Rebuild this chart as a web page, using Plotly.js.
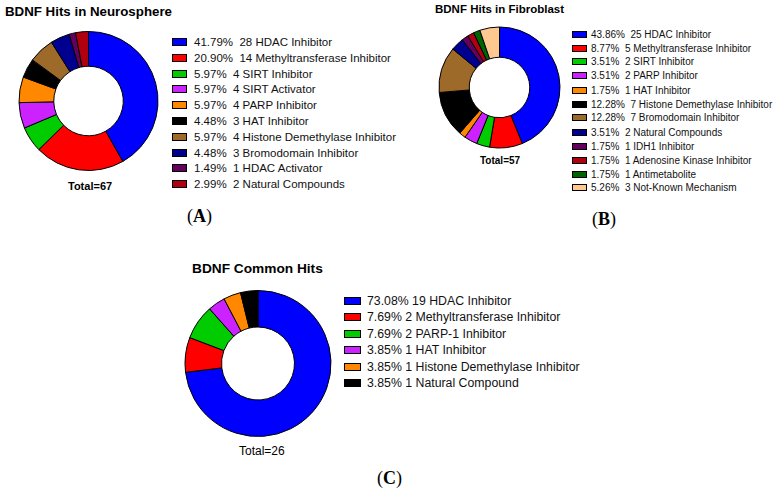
<!DOCTYPE html>
<html>
<head>
<meta charset="utf-8">
<script src="https://cdn.plot.ly/plotly-3.0.1.min.js"></script>
<style>
  html, body { margin: 0; padding: 0; background: #fff; }
  #chart { width: 776px; height: 493px; }
</style>
</head>
<body>
<div id="chart"></div>
<script>
const neuroLabels = ['HDAC Inhibitor', 'Methyltransferase Inhibitor', 'SIRT Inhibitor', 'SIRT Activator',
  'PARP Inhibitor', 'HAT Inhibitor', 'Histone Demethylase Inhibitor', 'Bromodomain Inhibitor',
  'HDAC Activator', 'Natural Compounds'];
const neuroCounts = [28, 14, 4, 4, 4, 3, 4, 3, 1, 2];
const neuroColors = ['#0000FF', '#FF0000', '#00CC00', '#CC22FF', '#FF8800', '#000000',
  '#9E6A2A', '#000090', '#66005E', '#B00010'];

const fibroLabels = ['HDAC Inhibitor', 'Methyltransferase Inhibitor', 'SIRT Inhibitor', 'PARP Inhibitor',
  'HAT Inhibitor', 'Histone Demethylase Inhibitor', 'Bromodomain Inhibitor', 'Natural Compounds',
  'IDH1 Inhibitor', 'Adenosine Kinase Inhibitor', 'Antimetabolite', 'Not-Known Mechanism'];
const fibroCounts = [25, 5, 2, 2, 1, 7, 7, 2, 1, 1, 1, 3];
const fibroColors = ['#0000FF', '#FF0000', '#00CC00', '#CC22FF', '#FF8800', '#000000',
  '#9E6A2A', '#000090', '#66005E', '#B00010', '#006400', '#FFC890'];

const commonLabels = ['HDAC Inhibitor', 'Methyltransferase Inhibitor', 'PARP-1 Inhibitor', 'HAT Inhibitor',
  'Histone Demethylase Inhibitor', 'Natural Compound'];
const commonCounts = [19, 2, 2, 1, 1, 1];
const commonColors = ['#0000FF', '#FF0000', '#00CC00', '#CC22FF', '#FF8800', '#000000'];

const W = 776, H = 493;
const px = v => v / W;
const py = v => 1 - v / H;

function donut(labels, counts, colors, cx, cy, r) {
  return {
    type: 'pie',
    labels: labels,
    values: counts,
    sort: false,
    direction: 'clockwise',
    rotation: 0,
    hole: 0.5,
    textinfo: 'none',
    hoverinfo: 'label+value+percent',
    showlegend: false,
    marker: { colors: colors, line: { color: '#000', width: 1 } },
    domain: { x: [px(cx - r), px(cx + r)], y: [py(cy + r), py(cy - r)] }
  };
}

// hand-made legend: box + text per row
function legendRows(labels, counts, colors, opt) {
  const total = counts.reduce((a, b) => a + b, 0);
  const out = [];
  labels.forEach((lab, i) => {
    const y = opt.y0 + i * opt.step;
    const pct = (counts[i] / total * 100).toFixed(2) + '%';
    out.push({
      xref: 'paper', yref: 'paper', x: px(opt.bx), y: py(y),
      xanchor: 'center', yanchor: 'middle', showarrow: false,
      text: '\u00a0', width: opt.bw, height: opt.bh, borderpad: 0,
      bgcolor: colors[i], bordercolor: '#000', borderwidth: 1,
      font: { size: 4 }
    });
    out.push({
      xref: 'paper', yref: 'paper', x: px(opt.tx), y: py(y),
      xanchor: 'left', yanchor: 'middle', showarrow: false,
      text: pct + opt.gap + counts[i] + ' ' + lab,
      font: { family: 'Liberation Sans, Arial, sans-serif', size: opt.fs, color: '#111' }
    });
  });
  return out;
}

function label(text, x, y, size, bold, family) {
  return {
    xref: 'paper', yref: 'paper', x: px(x), y: py(y),
    xanchor: 'center', yanchor: 'middle', showarrow: false,
    text: bold ? '<b>' + text + '</b>' : text,
    font: { family: family || 'Liberation Sans, Arial, sans-serif', size: size, color: '#000' }
  };
}

const data = [
  donut(neuroLabels, neuroCounts, neuroColors, 88.5, 101, 69.5),
  donut(fibroLabels, fibroCounts, fibroColors, 499.5, 87.5, 60.5),
  donut(commonLabels, commonCounts, commonColors, 258, 363.5, 73)
];

const annotations = [].concat(
  legendRows(neuroLabels, neuroCounts, neuroColors,
    { y0: 42, step: 15.8, bx: 179.5, tx: 192, bw: 13, bh: 6, fs: 11.5, gap: '\u00a0 ' }),
  legendRows(fibroLabels, fibroCounts, fibroColors,
    { y0: 34, step: 14.0, bx: 579.5, tx: 589, bw: 13, bh: 5, fs: 10, gap: '\u00a0 ' }),
  legendRows(commonLabels, commonCounts, commonColors,
    { y0: 301, step: 16.4, bx: 352.5, tx: 365, bw: 15, bh: 6, fs: 12.3, gap: ' ' }),
  [
    label('BDNF Hits in Neurosphere', 88.5, 12, 13.3, true),
    label('BDNF Hits in Fibroblast', 499.5, 9, 11.5, true),
    label('BDNF Common Hits', 257.5, 268, 13.7, true),
    label('Total=67', 90, 186, 11, true),
    label('Total=57', 500, 160, 10, true),
    label('Total=26', 261.5, 451, 12, false),
    label('(<b>A</b>)', 200, 217, 18, false, 'Liberation Serif, Times New Roman, serif'),
    label('(<b>B</b>)', 604, 220, 18, false, 'Liberation Serif, Times New Roman, serif'),
    label('(<b>C</b>)', 389, 478, 18, false, 'Liberation Serif, Times New Roman, serif')
  ]
);

const layout = {
  width: W, height: H,
  margin: { l: 0, r: 0, t: 0, b: 0 },
  paper_bgcolor: '#fff',
  showlegend: false,
  annotations: annotations
};

Plotly.newPlot('chart', data, layout, { displayModeBar: false, staticPlot: true });
</script>
</body>
</html>
